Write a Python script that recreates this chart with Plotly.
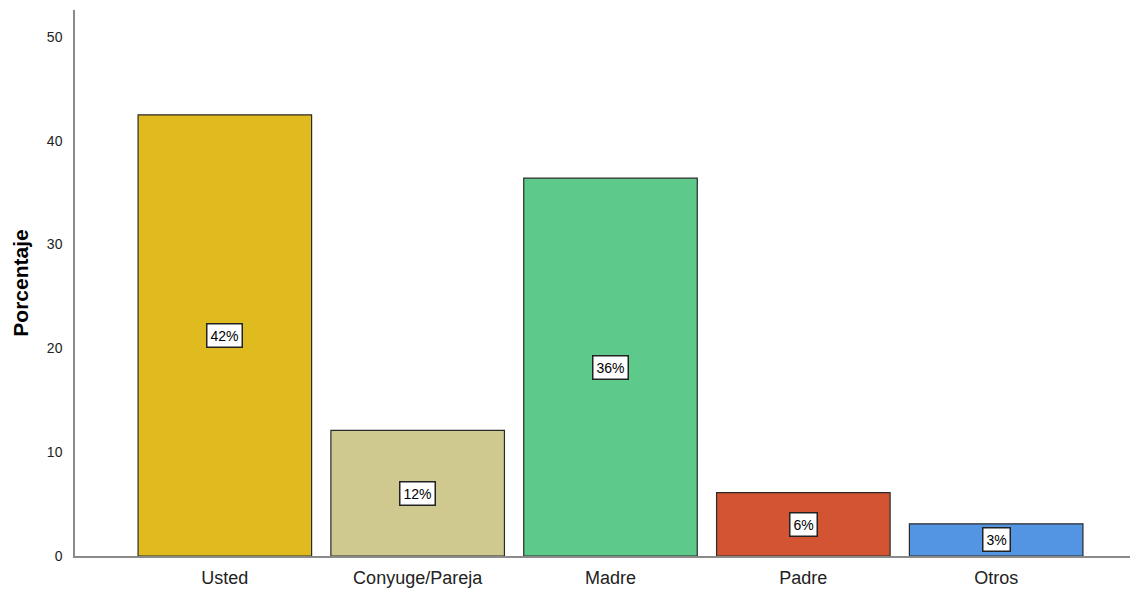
import plotly.graph_objects as go

categories = ["Usted", "Conyuge/Pareja", "Madre", "Padre", "Otros"]
values = [42.5, 12.1, 36.4, 6.1, 3.1]
labels = ["42%", "12%", "36%", "6%", "3%"]
colors = ["#E0BB1F", "#CFC98F", "#5DC98A", "#D25433", "#5395E2"]
y_ticks = [0, 10, 20, 30, 40, 50]

fig = go.Figure()
fig.add_trace(go.Bar(
    x=list(range(len(categories))),
    y=values,
    width=0.9,
    marker=dict(color=colors, line=dict(color="#2b2b2b", width=1.2)),
    hoverinfo="skip",
))

for i, (v, lab) in enumerate(zip(values, labels)):
    fig.add_annotation(
        x=i, y=v / 2, text=lab, showarrow=False,
        font=dict(family="Liberation Sans, Arial", size=14, color="black"),
        bgcolor="white", bordercolor="#222222", borderwidth=1.5, borderpad=3,
    )

fig.update_layout(
    width=1143, height=591,
    margin=dict(l=67, r=21, t=2, b=43),
    paper_bgcolor="white", plot_bgcolor="white",
    showlegend=False,
    font=dict(family="Liberation Sans, Arial", color="#222222"),
    xaxis=dict(
        range=[-0.777, 4.694],
        tickvals=list(range(len(categories))),
        ticktext=categories,
        tickfont=dict(size=18, color="#222222"),
        showline=True, linecolor="#8a8a8a", linewidth=1.5,
        showgrid=False, zeroline=False, ticks="", automargin=False,
        ticklabelstandoff=5,
    ),
    yaxis=dict(
        range=[0, 52.6],
        tickvals=y_ticks,
        tickfont=dict(size=14, color="#222222"),
        showline=True, linecolor="#8a8a8a", linewidth=1.5,
        showgrid=False, zeroline=False, ticks="", ticklabelstandoff=8,
        automargin=False,
        title=dict(text="<b>Porcentaje</b>", font=dict(size=21, color="black"), standoff=13),
    ),
)

fig.write_html("out.html")
